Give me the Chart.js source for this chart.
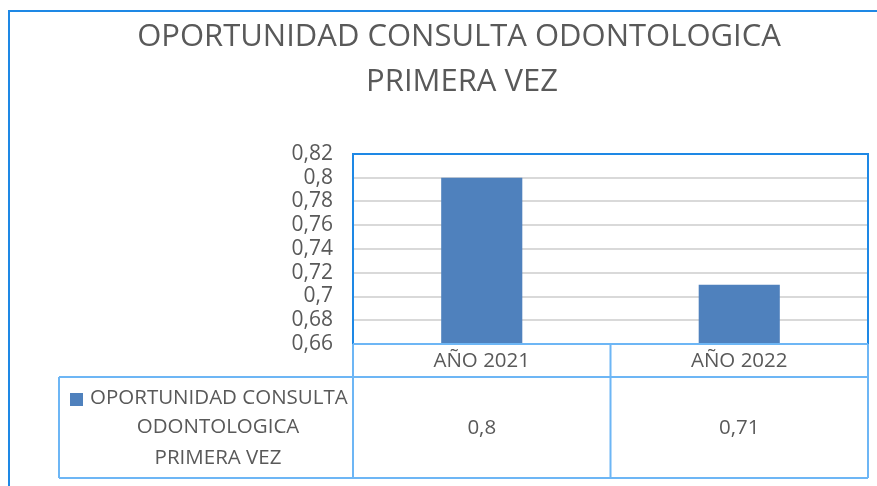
<!DOCTYPE html>
<html><head><meta charset="utf-8">
<script src="https://cdn.jsdelivr.net/npm/chart.js@4/dist/chart.umd.min.js"></script>
<style>html,body{margin:0;padding:0;background:#fff;}canvas{display:block;}</style>
</head><body>
<canvas id="c" width="877" height="486"></canvas>
<script>
const titleLines = ["OPORTUNIDAD CONSULTA ODONTOLOGICA", "PRIMERA VEZ"];
const categories = ["AÑO 2021", "AÑO 2022"];
const seriesName = "OPORTUNIDAD CONSULTA ODONTOLOGICA PRIMERA VEZ";
const seriesLegendLines = ["OPORTUNIDAD CONSULTA", "ODONTOLOGICA", "PRIMERA VEZ"];
const values = [0.8, 0.71];
const yMin = 0.66, yMax = 0.82, yStep = 0.02;

const FONT = '"Open Sans", "Liberation Sans", sans-serif';
const TEXT = '#595959';
const BAR = '#4F81BD';
const BORDER = '#1E88E5';
const TBORDER = '#6DB6F5';
const fmt = v => String(+v.toFixed(2)).replace('.', ',');

const decor = {
  id: 'decor',
  afterDraw(chart) {
    const ctx = chart.ctx;
    const a = chart.chartArea;
    const xs = chart.scales.x;
    ctx.save();
    ctx.strokeStyle = BORDER; ctx.lineWidth = 2;
    ctx.beginPath(); ctx.moveTo(9, 500); ctx.lineTo(9, 11); ctx.lineTo(900, 11); ctx.stroke();
    ctx.fillStyle = TEXT; ctx.textAlign = 'center'; ctx.textBaseline = 'middle';
    ctx.font = '31px ' + FONT;
    ctx.fillText(titleLines[0], 459, 37);
    ctx.fillText(titleLines[1], 462, 82);
    const n = categories.length;
    const w = (a.right - a.left) / n;
    const bounds = [];
    for (let i = 0; i <= n; i++) bounds.push(a.left + i * w);
    const r1 = a.bottom, r2 = a.bottom + 33, r3 = a.bottom + 134;
    const tableLeft = 59;
    ctx.strokeStyle = TBORDER; ctx.lineWidth = 2;
    ctx.beginPath();
    ctx.moveTo(tableLeft, r2); ctx.lineTo(a.right, r2);
    ctx.moveTo(tableLeft, r3); ctx.lineTo(a.right, r3);
    ctx.moveTo(tableLeft, r2); ctx.lineTo(tableLeft, r3);
    bounds.forEach(b => { ctx.moveTo(b, r1); ctx.lineTo(b, r3); });
    ctx.stroke();
    ctx.strokeStyle = BORDER; ctx.lineWidth = 2;
    ctx.beginPath();
    ctx.moveTo(a.left, a.bottom); ctx.lineTo(a.left, a.top); ctx.lineTo(a.right, a.top); ctx.lineTo(a.right, a.bottom);
    ctx.stroke();
    ctx.strokeStyle = TBORDER;
    ctx.beginPath(); ctx.moveTo(a.left, a.bottom); ctx.lineTo(a.right, a.bottom); ctx.stroke();
    ctx.fillStyle = TEXT; ctx.font = '20.5px ' + FONT;
    categories.forEach((c, i) => {
      const cx = xs.getPixelForValue(i);
      ctx.fillText(c, cx, (r1 + r2) / 2 + 1);
      ctx.fillText(fmt(values[i]), cx, (r2 + r3) / 2 + 1);
    });
    ctx.fillStyle = BAR; ctx.fillRect(70, 393, 13, 13);
    ctx.fillStyle = TEXT;
    ctx.textAlign = 'left';
    ctx.fillText(seriesLegendLines[0], 90, 398);
    ctx.textAlign = 'center';
    ctx.fillText(seriesLegendLines[1], 218, 427);
    ctx.fillText(seriesLegendLines[2], 218, 458);
    ctx.restore();
  }
};

new Chart(document.getElementById('c'), {
  type: 'bar',
  data: { labels: categories, datasets: [{ label: seriesName, data: values, backgroundColor: BAR, barPercentage: 0.63, categoryPercentage: 0.5 }] },
  options: {
    responsive: false, animation: false, devicePixelRatio: 1,
    layout: { padding: { left: 0, top: 154, right: 9, bottom: 142 } },
    plugins: { legend: { display: false }, title: { display: false }, tooltip: { enabled: false } },
    scales: {
      x: { display: false },
      y: {
        min: yMin, max: yMax,
        afterFit: s => { s.width = 353; },
        ticks: { stepSize: yStep, autoSkip: false, padding: 20, color: TEXT, font: { family: FONT, size: 21 }, callback: v => fmt(v) },
        grid: { color: '#D9D9D9', lineWidth: 2, drawTicks: false },
        border: { display: false }
      }
    }
  },
  plugins: [decor]
});
</script>
</body></html>
